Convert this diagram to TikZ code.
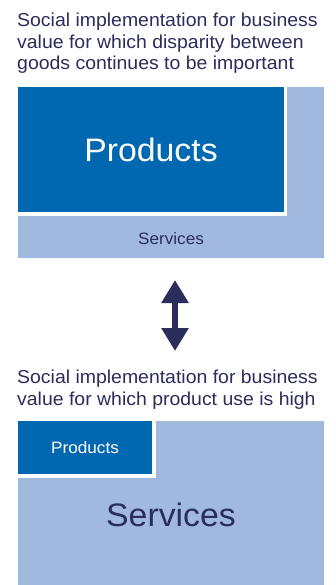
\documentclass[tikz,border=0pt]{standalone}
\usepackage{fontspec}
\setmainfont{Liberation Sans}[FakeStretch=1.04]
\usetikzlibrary{arrows.meta,positioning}
\definecolor{navy}{HTML}{2B2D5A}
\definecolor{prod}{HTML}{0067B1}
\definecolor{serv}{HTML}{A1B9DD}

\begin{document}
\begin{tikzpicture}[
  x=1pt, y=-1pt,
  caption/.style={font=\fontsize{18.7}{21.5}\selectfont, text=navy, align=left, anchor=north west, inner sep=0pt},
  prodbox/.style={fill=prod, text=white, inner sep=0pt},
  big/.style={font=\fontsize{32.5}{36}\selectfont},
  small/.style={font=\fontsize{16.5}{18}\selectfont},
  servtext/.style={text=navy, inner sep=0pt},
]
\useasboundingbox (0,0) rectangle (335,585);

% upper case: products dominate
\node[caption] (captop) at (17,13) {Social implementation for business\\value for which disparity between\\goods continues to be important};
\fill[serv] (287,87) -- (324,87) -- (324,258) -- (18,258) -- (18,216) -- (287,216) -- cycle;
\node[prodbox, big, minimum width=266pt, minimum height=125pt] (prodtop) at (151,149.5) {Products};
\node[servtext, small] (servtop) at (171,239) {Services};

% switching between the two
\coordinate (arrtop) at (175,280);
\coordinate (arrbot) at (175,351);
\draw[navy, line width=6pt, {Triangle[width=26pt,length=23pt]}-{Triangle[width=26pt,length=23pt]}] (arrtop) -- (arrbot);

% lower case: services dominate
\node[caption] (capbot) at (17,370) {Social implementation for business\\value for which product use is high};
\fill[serv] (156,421) -- (324,421) -- (324,585) -- (18,585) -- (18,478) -- (156,478) -- cycle;
\node[prodbox, small, minimum width=134pt, minimum height=53pt] (prodbot) at (85,447.5) {Products};
\node[servtext, big] (servbot) at (171,515) {Services};

\end{tikzpicture}
\end{document}
